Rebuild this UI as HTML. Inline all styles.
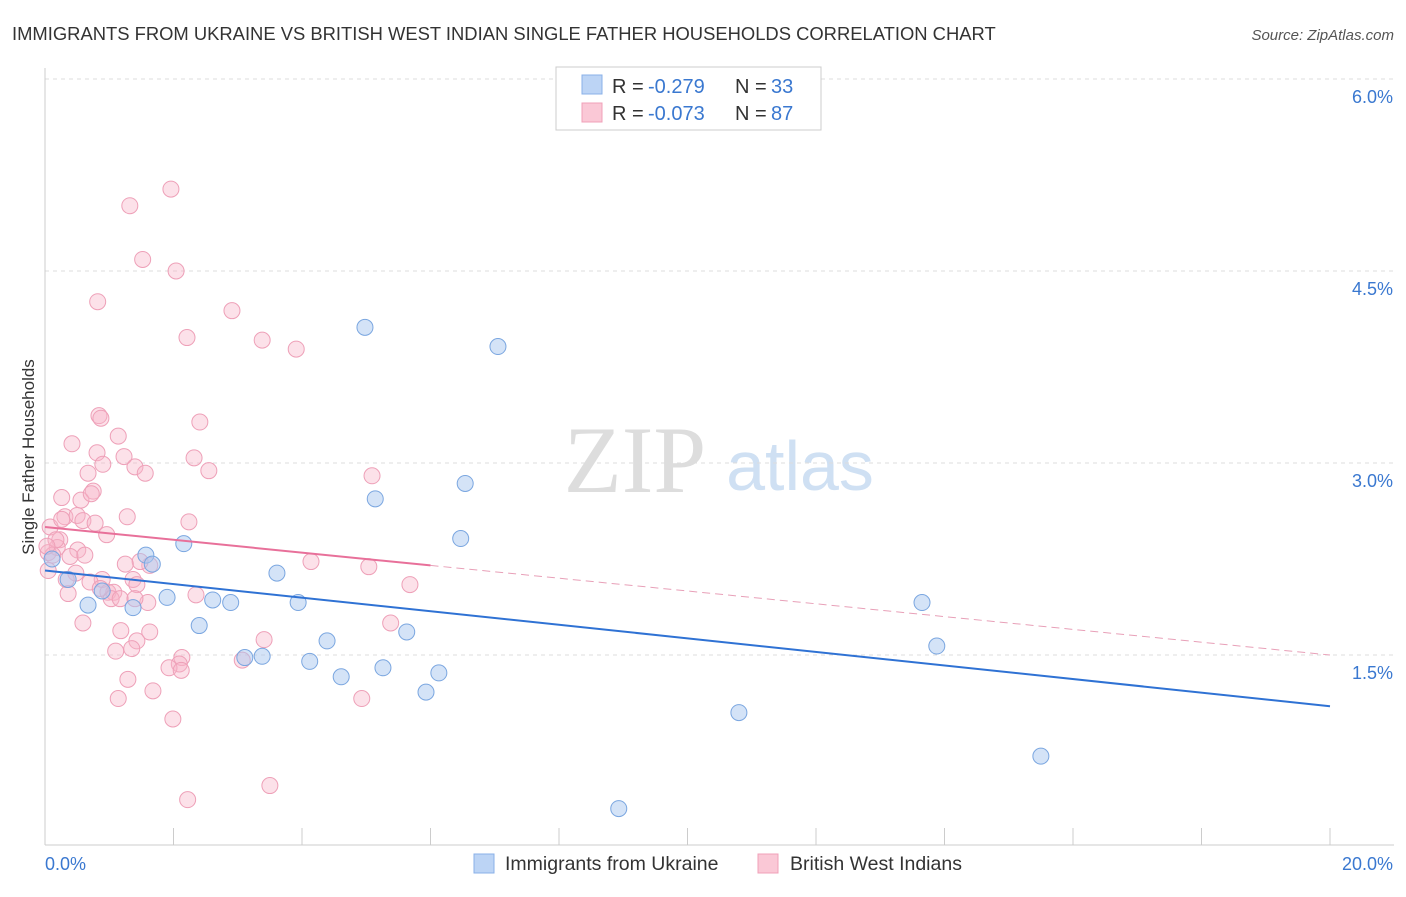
<!DOCTYPE html>
<html><head><meta charset="utf-8"><style>
body{margin:0;background:#fff;font-family:"Liberation Sans",sans-serif}
</style></head><body>
<svg width="1406" height="892" xmlns="http://www.w3.org/2000/svg">
<text x="12" y="40" font-size="18.4" fill="#333">IMMIGRANTS FROM UKRAINE VS BRITISH WEST INDIAN SINGLE FATHER HOUSEHOLDS CORRELATION CHART</text>
<text x="1394" y="40" font-size="15" fill="#555" font-style="italic" text-anchor="end">Source: ZipAtlas.com</text>
<text x="635" y="492" font-size="95" fill="#ddd" font-family="Liberation Serif" text-anchor="middle">ZIP</text>
<text x="800" y="490" font-size="70" fill="#cfe0f3" text-anchor="middle">atlas</text>
<g id="grid"></g><g id="axes"></g><g id="marks"></g>
<text transform="translate(34,457) rotate(-90)" font-size="17" fill="#333" text-anchor="middle">Single Father Households</text>
<g font-size="20">
<rect x="556" y="67" width="265" height="63" fill="#fff" stroke="#ccc"/>
<rect x="582" y="75" width="20" height="19" fill="#bcd4f5" stroke="#8ab0e8"/>
<text x="612" y="93" fill="#333">R =</text><text x="648" y="93" fill="#3a78d0">-0.279</text>
<text x="735" y="93" fill="#333">N =</text><text x="771" y="93" fill="#3a78d0">33</text>
<rect x="582" y="103" width="20" height="19" fill="#fac8d6" stroke="#f0a0b8"/>
<text x="612" y="120" fill="#333">R =</text><text x="648" y="120" fill="#3a78d0">-0.073</text>
<text x="735" y="120" fill="#333">N =</text><text x="771" y="120" fill="#3a78d0">87</text>
</g>
<g>
<rect x="474" y="854" width="20" height="19" fill="#bcd4f5" stroke="#8ab0e8"/>
<text x="505" y="870" font-size="19.5" fill="#333">Immigrants from Ukraine</text>
<rect x="758" y="854" width="20" height="19" fill="#fac8d6" stroke="#f0a0b8"/>
<text x="790" y="870" font-size="19.5" fill="#333">British West Indians</text>
</g>
</svg>
<script>
const yTicks=[1.5,3.0,4.5,6.0];
const xTickLabels=["0.0%","20.0%"];
const blueX=[4.98,7.05,5.14,6.54,6.47,2.16,1.57,1.67,3.61,0.36,0.67,0.89,1.37,1.90,2.61,2.89,3.94,2.40,4.39,5.63,3.38,3.11,4.12,5.26,4.61,6.13,5.93,13.65,13.88,10.80,15.50,8.93,0.11];
const blueY=[4.06,3.91,2.72,2.84,2.41,2.37,2.28,2.21,2.14,2.09,1.89,2.0,1.87,1.95,1.93,1.91,1.91,1.73,1.61,1.68,1.49,1.48,1.45,1.40,1.33,1.36,1.21,1.91,1.57,1.05,0.71,0.3,2.25];
const pinkX=[1.96,1.32,1.52,2.04,0.82,2.91,2.21,3.38,3.91,0.84,0.87,2.41,1.14,0.42,1.23,0.81,2.32,2.55,1.4,1.56,5.09,0.9,0.67,0.26,0.75,0.56,0.72,0.31,0.5,0.59,0.78,1.28,2.24,0.08,0.23,0.96,0.19,0.05,0.51,0.12,0.39,4.14,5.04,1.63,1.48,1.25,0.48,0.89,1.37,0.7,0.05,0.98,0.36,1.07,1.43,2.35,5.68,1.03,1.6,0.59,5.38,1.18,1.63,1.43,3.41,1.1,1.35,2.13,2.09,1.93,3.07,2.12,1.29,1.68,1.14,4.93,1.99,3.5,2.22,0.17,0.03,0.26,1.17,0.33,1.4,0.86,0.62];
const pinkY=[5.14,5.01,4.59,4.5,4.26,4.19,3.98,3.96,3.89,3.37,3.35,3.32,3.21,3.15,3.05,3.08,3.04,2.94,2.97,2.92,2.9,2.99,2.92,2.73,2.78,2.71,2.76,2.58,2.59,2.55,2.53,2.58,2.54,2.5,2.4,2.44,2.34,2.3,2.32,2.28,2.27,2.23,2.19,2.2,2.23,2.21,2.14,2.09,2.09,2.07,2.16,1.99,1.98,1.99,2.05,1.97,2.05,1.94,1.91,1.75,1.75,1.69,1.68,1.61,1.62,1.53,1.55,1.48,1.43,1.4,1.46,1.38,1.31,1.22,1.16,1.16,1.0,0.48,0.37,2.4,2.35,2.56,1.94,2.09,1.94,2.02,2.28];
const blueLine=[2.16,1.1];
const pinkLine=[2.5,1.5];
const ns="http://www.w3.org/2000/svg";
const X=v=>45+v/20*1285, Y=v=>847-v/1.5*192;
function mk(t,a,p,nm){const e=document.createElementNS(ns,t);for(const k in a)e.setAttribute(k,a[k]);


document.getElementById(p).appendChild(e);return e;}
yTicks.forEach(v=>{mk('line',{x1:45,x2:1394,y1:Y(v),y2:Y(v),stroke:'#ddd','stroke-dasharray':'4,4'},'grid','y-gridline');
const t=mk('text',{x:1393,y:Y(v)+24,'font-size':18,fill:'#3a78d0','text-anchor':'end'},'axes','y-tick-label');t.textContent=v.toFixed(1)+'%';});
mk('line',{x1:45,x2:45,y1:68,y2:845,stroke:'#ccc'},'axes','y-axis');
mk('line',{x1:45,x2:1394,y1:845,y2:845,stroke:'#ccc'},'axes','x-axis');
for(let i=1;i<=10;i++)mk('line',{x1:X(i*2),x2:X(i*2),y1:828,y2:845,stroke:'#ccc'},'axes','x-tick');
let t=mk('text',{x:45,y:870,'font-size':18,fill:'#3a78d0'},'axes','x-tick-label');t.textContent=xTickLabels[0];
t=mk('text',{x:1393,y:870,'font-size':18,fill:'#3a78d0','text-anchor':'end'},'axes','x-tick-label');t.textContent=xTickLabels[1];
pinkX.forEach((x,i)=>mk('circle',{cx:X(x),cy:Y(pinkY[i]),r:8,fill:'rgba(248,180,200,0.4)',stroke:'#eea0b8','stroke-width':1},'marks','pink-point'));
blueX.forEach((x,i)=>mk('circle',{cx:X(x),cy:Y(blueY[i]),r:8,fill:'rgba(170,200,240,0.5)',stroke:'#7aa6e0','stroke-width':1},'marks','blue-point'));
mk('line',{x1:X(0),y1:Y(blueLine[0]),x2:X(20),y2:Y(blueLine[1]),stroke:'#2f72d4','stroke-width':2},'marks','blue-trend-line');
const pm=pinkLine[0]+(pinkLine[1]-pinkLine[0])*0.3;
mk('line',{x1:X(0),y1:Y(pinkLine[0]),x2:X(6),y2:Y(pm),stroke:'#e8709a','stroke-width':2},'marks','pink-trend-line');
mk('line',{x1:X(6),y1:Y(pm),x2:X(20),y2:Y(pinkLine[1]),stroke:'#e8a0b8','stroke-width':1,'stroke-dasharray':'8,5'},'marks','pink-trend-extension');
</script>
</body></html>
